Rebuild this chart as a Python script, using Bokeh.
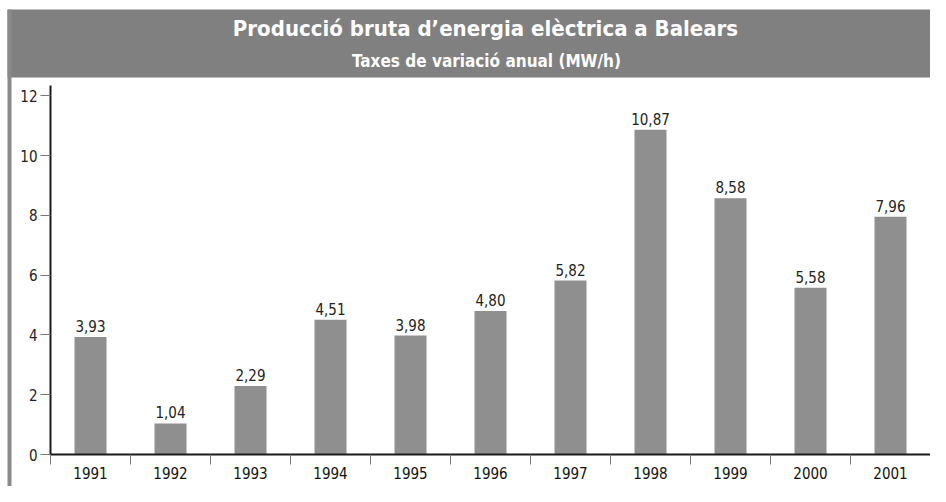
from bokeh.plotting import figure
from bokeh.models import Range1d, FixedTicker, Label, BoxAnnotation, ColumnDataSource, LabelSet
from bokeh.embed import file_html
from bokeh.resources import INLINE
from bokeh.core.properties import value

years = ["1991", "1992", "1993", "1994", "1995", "1996", "1997", "1998", "1999", "2000", "2001"]
rates = [3.93, 1.04, 2.29, 4.51, 3.98, 4.80, 5.82, 10.87, 8.58, 5.58, 7.96]
rate_labels = ["3,93", "1,04", "2,29", "4,51", "3,98", "4,80", "5,82", "10,87", "8,58", "5,58", "7,96"]
y_ticks = [0, 2, 4, 6, 8, 10, 12]
title_text = "Producció bruta d\u2019energia elèctrica a Balears"
subtitle_text = "Taxes de variació anual (MW/h)"

FONT = "DejaVu Sans Condensed"
W, H = 930, 486

# layout geometry (pixels on the canvas)
AX_LEFT_PX = 50      # y axis position
ZERO_PX = 454        # y = 0 position
AXTOP_PX = 85        # top of the y axis line
BAR_TOP_PX = 9       # top of the grey title bar
BAR_BOTTOM_PX = 77   # bottom of the grey title bar
FRAME_LEFT_PX = 7    # left edge of the grey frame
Y_AXIS_TOP = 12.35

n = len(years)
ppx = (W - AX_LEFT_PX) / n
ppy = (ZERO_PX - AXTOP_PX) / Y_AXIS_TOP
x_lo = -AX_LEFT_PX / ppx
y_lo = -(H - ZERO_PX) / ppy
y_hi = Y_AXIS_TOP + AXTOP_PX / ppy


def xpx(px):
    return x_lo + px / ppx


def ypx(px):
    return y_hi - px / ppy


centers = [i + 0.5 for i in range(n)]
bounds = [i for i in range(n + 1)]

p = figure(width=W, height=H, output_backend="svg", toolbar_location=None,
           x_range=Range1d(x_lo, n), y_range=Range1d(y_lo, y_hi),
           min_border_left=0, min_border_right=0, min_border_top=0, min_border_bottom=0)
p.outline_line_color = None
p.xgrid.visible = False
p.ygrid.visible = False
p.background_fill_color = "white"
p.border_fill_color = "white"

# title bar and left strip
p.add_layout(BoxAnnotation(left=xpx(FRAME_LEFT_PX), top=ypx(BAR_TOP_PX), bottom=ypx(BAR_BOTTOM_PX),
                           fill_color="#808080", fill_alpha=1, line_color=None))
p.add_layout(BoxAnnotation(left=xpx(FRAME_LEFT_PX), right=xpx(FRAME_LEFT_PX + 4), top=ypx(BAR_TOP_PX),
                           fill_color="#8a8a8a", fill_alpha=1, line_color=None))

p.add_layout(Label(x=xpx(485), y=ypx(28), text=title_text,
                   text_align="center", text_baseline="middle", text_color="white",
                   text_font=FONT, text_font_size="22px", text_font_style="bold"))
p.add_layout(Label(x=xpx(486), y=ypx(60), text=subtitle_text,
                   text_align="center", text_baseline="middle", text_color="white",
                   text_font=FONT, text_font_size="17px", text_font_style="bold"))

src = ColumnDataSource(dict(x=centers, top=rates, lab=rate_labels))
p.vbar(x="x", top="top", width=0.4, source=src, fill_color="#8f8f8f", line_color=None)
p.add_layout(LabelSet(x="x", y="top", text="lab", source=src, y_offset=5,
                      text_align="center", text_baseline="bottom", text_color="#222222",
                      text_font=value(FONT), text_font_size="15px"))

xa = p.xaxis[0]
xa.fixed_location = 0
xa.bounds = (0, n)
xa.ticker = FixedTicker(ticks=centers, minor_ticks=bounds)
xa.major_label_overrides = {c: y for c, y in zip(centers, years)}
xa.major_tick_out = 0
xa.major_tick_in = 0
xa.minor_tick_out = 10
xa.minor_tick_in = 0
xa.minor_tick_line_color = "#777777"
xa.axis_line_width = 2
xa.axis_line_color = "#1a1a1a"
xa.major_label_standoff = 2
xa.major_label_text_font = FONT
xa.major_label_text_font_size = "15px"
xa.major_label_text_color = "#111111"

ya = p.yaxis[0]
ya.fixed_location = 0
ya.bounds = (0, Y_AXIS_TOP)
ya.ticker = FixedTicker(ticks=y_ticks)
ya.major_tick_out = 10
ya.major_tick_in = 0
ya.minor_tick_out = 0
ya.minor_tick_in = 0
ya.major_tick_line_color = "#777777"
ya.axis_line_width = 2
ya.axis_line_color = "#1a1a1a"
ya.major_label_standoff = 3
ya.major_label_text_font = FONT
ya.major_label_text_font_size = "15px"
ya.major_label_text_color = "#222222"

open("out.html", "w").write(file_html(p, INLINE))
